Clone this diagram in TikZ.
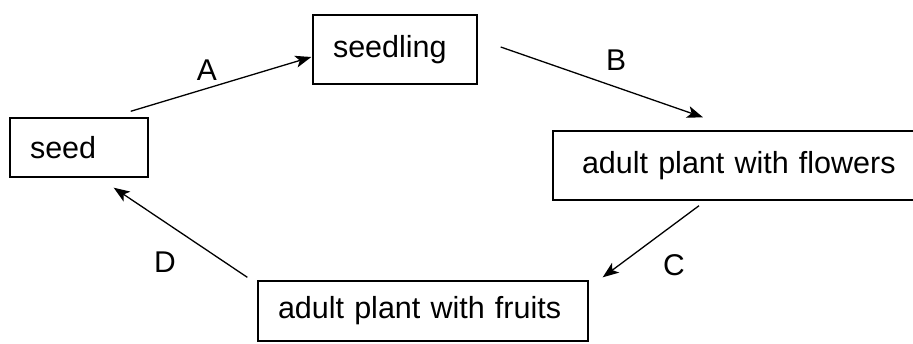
\documentclass[tikz,border=0pt]{standalone}
\usepackage{fontspec}
\setmainfont{Liberation Sans}
\usetikzlibrary{arrows.meta}

\tikzset{
  stage/.style={draw, line width=1.4pt, inner xsep=20pt, inner ysep=0pt, align=left,
    font=\fontsize{30.5}{34}\selectfont},
  step label/.style={font=\fontsize{30}{34}\selectfont},
  cycle arrow/.style={line width=1.3pt, -{Stealth[length=16pt,width=12pt,inset=4pt]}}
}

\begin{document}
\begin{tikzpicture}[x=1pt, y=-1pt]

\clip (0,0) rectangle (913,343);

% the four stages
\node[stage, text width=98pt, minimum height=59pt] (seed) at (79,147.5) {seed};
\node[stage, text width=124pt, minimum height=69pt] (seedling) at (395,49.5) {\raisebox{3pt}{seedling}};
\node[stage, text width=337pt, minimum height=69pt] (flowers) at (741.5,165.5) {\hspace*{9pt}adult plant with flowers};
\node[stage, text width=290pt, minimum height=60pt] (fruits) at (423,311) {adult plant with fruits};

% arrows round the cycle
\draw[cycle arrow] ([xshift=-18pt,yshift=6pt]seed.north east) -- ([xshift=-1pt,yshift=-7.5pt]seedling.west);
\draw[cycle arrow] ([xshift=23pt,yshift=2.5pt]seedling.east) -- ([xshift=-38.5pt,yshift=13pt]flowers.north);
\draw[cycle arrow] ([xshift=-42.5pt,yshift=-5pt]flowers.south) -- ([xshift=14pt,yshift=3pt]fruits.north east);
\draw[cycle arrow] ([xshift=-10pt,yshift=3pt]fruits.north west) -- ([xshift=-35pt,yshift=-10pt]seed.south east);

% labels
\node[step label] (labA) at (207,70) {A};
\node[step label] (labB) at (616,60) {B};
\node[step label] (labC) at (674,265) {C};
\node[step label] (labD) at (165,262) {D};

\end{tikzpicture}
\end{document}
